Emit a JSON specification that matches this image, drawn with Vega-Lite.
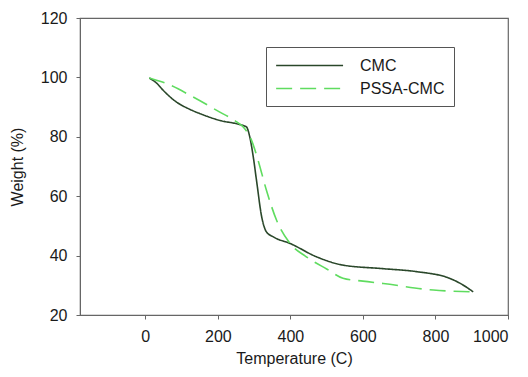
{
  "$schema": "https://vega.github.io/schema/vega-lite/v6.json",
  "autosize": "none",
  "width": 428,
  "height": 297,
  "padding": {"left": 80, "top": 18, "right": 20, "bottom": 62},
  "background": "white",
  "config": {
    "view": {"stroke": "#666666", "strokeWidth": 1.2},
    "font": "Liberation Sans",
    "axis": {"grid": false, "domainColor": "#666666", "tickColor": "#666666", "tickSize": 4, "labelFont": "Liberation Sans", "titleFont": "Liberation Sans", "labelFontSize": 16, "titleFontSize": 16, "labelColor": "#1a1a1a", "titleColor": "#1a1a1a", "titleFontWeight": "normal"}
  },
  "data": {
    "values": [
      {"T": 11, "W": 99.8, "s": "CMC"},
      {"T": 30, "W": 98.2, "s": "CMC"},
      {"T": 49, "W": 95.7, "s": "CMC"},
      {"T": 86, "W": 91.7, "s": "CMC"},
      {"T": 120, "W": 89.4, "s": "CMC"},
      {"T": 151, "W": 87.8, "s": "CMC"},
      {"T": 206, "W": 85.5, "s": "CMC"},
      {"T": 261, "W": 84.1, "s": "CMC"},
      {"T": 279, "W": 83.3, "s": "CMC"},
      {"T": 288, "W": 80, "s": "CMC"},
      {"T": 298, "W": 73, "s": "CMC"},
      {"T": 307, "W": 65, "s": "CMC"},
      {"T": 321, "W": 53, "s": "CMC"},
      {"T": 334, "W": 48, "s": "CMC"},
      {"T": 353, "W": 46.3, "s": "CMC"},
      {"T": 399, "W": 44.1, "s": "CMC"},
      {"T": 472, "W": 39.6, "s": "CMC"},
      {"T": 545, "W": 36.8, "s": "CMC"},
      {"T": 656, "W": 35.6, "s": "CMC"},
      {"T": 748, "W": 34.6, "s": "CMC"},
      {"T": 840, "W": 32.3, "s": "CMC"},
      {"T": 876, "W": 30.1, "s": "CMC"},
      {"T": 904, "W": 27.8, "s": "CMC"},
      {"T": 11, "W": 99.8, "s": "PSSA-CMC"},
      {"T": 59, "W": 97.9, "s": "PSSA-CMC"},
      {"T": 132, "W": 93.4, "s": "PSSA-CMC"},
      {"T": 197, "W": 88.9, "s": "PSSA-CMC"},
      {"T": 252, "W": 85, "s": "PSSA-CMC"},
      {"T": 270, "W": 83.3, "s": "PSSA-CMC"},
      {"T": 293, "W": 78.8, "s": "PSSA-CMC"},
      {"T": 310, "W": 72.5, "s": "PSSA-CMC"},
      {"T": 334, "W": 62, "s": "PSSA-CMC"},
      {"T": 362, "W": 51.9, "s": "PSSA-CMC"},
      {"T": 399, "W": 44.1, "s": "PSSA-CMC"},
      {"T": 444, "W": 39.6, "s": "PSSA-CMC"},
      {"T": 500, "W": 35.5, "s": "PSSA-CMC"},
      {"T": 545, "W": 32.4, "s": "PSSA-CMC"},
      {"T": 600, "W": 31.4, "s": "PSSA-CMC"},
      {"T": 656, "W": 30.6, "s": "PSSA-CMC"},
      {"T": 794, "W": 28.4, "s": "PSSA-CMC"},
      {"T": 904, "W": 27.8, "s": "PSSA-CMC"}
    ]
  },
  "mark": {"type": "line", "interpolate": "monotone", "strokeWidth": 1.6},
  "encoding": {
    "x": {"field": "T", "type": "quantitative", "scale": {"domain": [-180, 1000], "nice": false, "zero": false}, "axis": {"values": [0, 200, 400, 600, 800, 1000], "format": "d", "title": "Temperature (C)", "labelPadding": 9, "titlePadding": 6}},
    "y": {"field": "W", "type": "quantitative", "scale": {"domain": [20, 120], "nice": false, "zero": false}, "axis": {"values": [20, 40, 60, 80, 100, 120], "title": "Weight (%)", "labelPadding": 9, "titlePadding": 15}},
    "color": {"field": "s", "type": "nominal", "scale": {"domain": ["CMC", "PSSA-CMC"], "range": ["#2a472a", "#5fdc5f"]}, "legend": {"title": null, "orient": "none", "legendX": 186, "legendY": 29, "strokeColor": "#555555", "padding": 9, "symbolType": "M-1,0H7", "symbolSize": 280, "symbolStrokeWidth": 1.6, "labelFontSize": 16, "labelFont": "Liberation Sans", "labelColor": "#1a1a1a", "labelOffset": 66, "rowPadding": 5, "labelLimit": 200, "fillColor": "white"}},
    "strokeDash": {"field": "s", "type": "nominal", "scale": {"domain": ["CMC", "PSSA-CMC"], "range": [[1, 0], [16, 8]]}, "legend": null}
  }
}
